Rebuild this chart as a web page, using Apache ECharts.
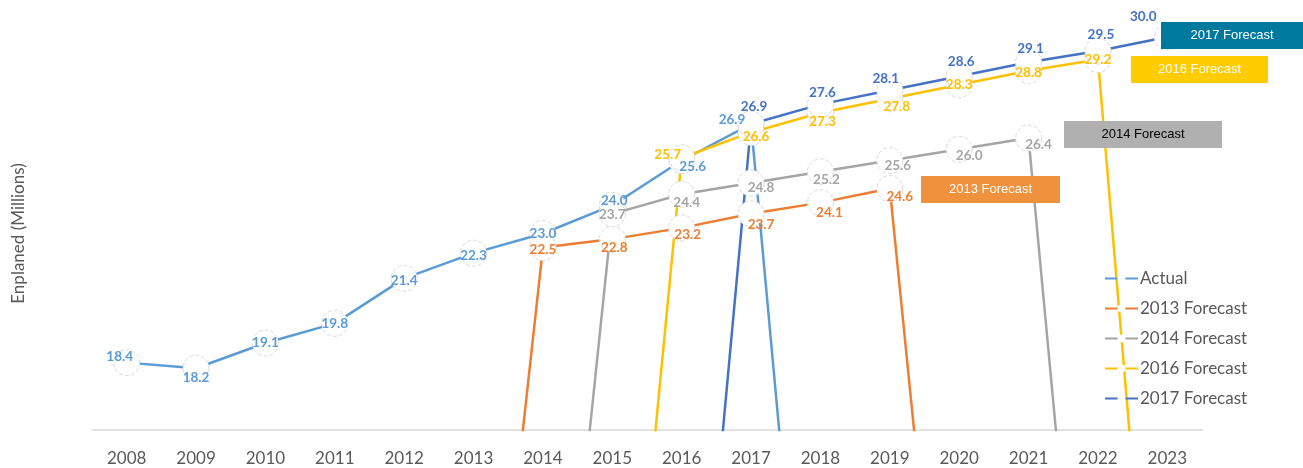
<!DOCTYPE html>
<html>
<head>
    <meta charset="UTF-8">
    <title>Enplaned forecast</title>
    <script src="https://cdn.jsdelivr.net/npm/echarts@6/dist/echarts.min.js"></script>
</head>
<body style="margin:0;background:#fff">
    <div id="chart" style="width:1303px; height:468px;"></div>
    <script>
        // years on x axis
        var years = ['2008','2009','2010','2011','2012','2013','2014','2015','2016','2017','2018','2019','2020','2021','2022','2023'];

        // series values (0 = no value in that year, drops below axis)
        var actual     = [18.4, 18.2, 19.1, 19.8, 21.4, 22.3, 23.0, 24.0, 25.6, 26.9, 0, 0, 0, 0, 0, 0];
        var fc2013     = [0, 0, 0, 0, 0, 0, 22.5, 22.8, 23.2, 23.7, 24.1, 24.6, 0, 0, 0, 0];
        var fc2014     = [0, 0, 0, 0, 0, 0, 0, 23.7, 24.4, 24.8, 25.2, 25.6, 26.0, 26.4, 0, 0];
        var fc2016     = [0, 0, 0, 0, 0, 0, 0, 0, 25.7, 26.6, 27.3, 27.8, 28.3, 28.8, 29.2, 0];
        var fc2017     = [0, 0, 0, 0, 0, 0, 0, 0, 0, 26.9, 27.6, 28.1, 28.6, 29.1, 29.5, 30.0];

        // label nudges per point, same order as the values
        var actualOff = [[-7,-6],[0,9],[0,0],[0,0],[0,2],[0,2],[0,0],[2,-5],[11,6],[-19,-4]];
        var off2013 = {6:[0,2], 7:[2,9], 8:[6,7], 9:[10,11], 10:[9,10], 11:[10,8]};
        var off2014 = {7:[0,1], 8:[5,8], 9:[10,5], 10:[6,8], 11:[8,5], 12:[10,6], 13:[10,7]};
        var off2016 = {8:[-14,-3], 9:[5,4], 10:[2,9], 11:[7,8], 12:[0,0], 13:[0,2], 14:[0,0]};
        var off2017 = {9:[3,-17], 10:[2,-12], 11:[-4,-12], 12:[2,-15], 13:[2,-14], 14:[3,-16], 15:[-24,-20]};

        var chart = echarts.init(document.getElementById('chart'), null, {renderer: 'canvas'});

        function points(vals, offs) {
            return vals.map(function (v, i) {
                var o = offs[i] || [0, 0];
                return {value: v, label: {offset: o}};
            });
        }

        function makeLine(name, color, vals, offs) {
            return {
                name: name,
                type: 'line',
                data: points(vals, offs),
                symbol: 'circle',
                symbolSize: 26,
                clip: true,
                color: color,
                lineStyle: {color: color, width: 2.5},
                itemStyle: {color: '#ffffff', borderColor: '#d9d9d9', borderWidth: 1, borderType: 'dashed'},
                emphasis: {disabled: true},
                label: {
                    show: true,
                    position: 'inside',
                    color: color,
                    fontFamily: 'Lato',
                    fontWeight: 'bold',
                    fontSize: 13.5,
                    formatter: function (p) { return p.value ? p.value.toFixed(1) : ''; }
                }
            };
        }

        function tag(text, x, y, w, h, bg, fg) {
            return {
                type: 'group', x: x, y: y, z: 100,
                children: [
                    {type: 'rect', shape: {x: 0, y: 0, width: w, height: h}, style: {fill: bg}, z: 100},
                    {type: 'text', x: w / 2, y: h / 2, z: 101,
                     style: {text: text, fill: fg, font: '13px "Liberation Sans", Arial', align: 'center', verticalAlign: 'middle'}}
                ]
            };
        }

        var option = {
            animation: false,
            grid: {left: 92, right: 101, top: 37, bottom: 38},
            legend: {
                orient: 'vertical',
                left: 1104,
                top: 270,
                padding: 0,
                itemWidth: 33,
                itemHeight: 10,
                itemGap: 13,
                itemStyle: {borderWidth: 0},
                textStyle: {fontFamily: 'Lato', fontSize: 17, color: '#595959', padding: [0, 0, 0, -3]},
                data: ['Actual', '2013 Forecast', '2014 Forecast', '2016 Forecast', '2017 Forecast']
            },
            xAxis: {
                type: 'category',
                data: years,
                axisLine: {lineStyle: {color: '#d9d9d9', width: 1.5}},
                axisTick: {show: false},
                axisLabel: {fontFamily: 'Lato', fontSize: 17, color: '#595959', margin: 20}
            },
            yAxis: {
                type: 'value',
                min: 16,
                max: 30,
                axisLine: {show: false},
                axisTick: {show: false},
                axisLabel: {show: false},
                splitLine: {show: false},
                name: 'Enplaned (Millions)',
                nameLocation: 'middle',
                nameGap: 65,
                nameTextStyle: {fontFamily: 'Lato', fontSize: 17, color: '#595959'}
            },
            series: [
                makeLine('Actual', '#5b9bd5', actual, actualOff),
                makeLine('2013 Forecast', '#ed7d31', fc2013, off2013),
                makeLine('2014 Forecast', '#a5a5a5', fc2014, off2014),
                makeLine('2016 Forecast', '#ffc000', fc2016, off2016),
                makeLine('2017 Forecast', '#4472c4', fc2017, off2017)
            ],
            graphic: [
                tag('2017 Forecast', 1161, 22, 142, 27, '#00799f', '#ffffff'),
                tag('2016 Forecast', 1131, 56, 137, 27, '#ffcc00', '#ffffff'),
                tag('2014 Forecast', 1064, 121, 158, 27, '#b0b0b0', '#000000'),
                tag('2013 Forecast', 921, 176, 139, 27, '#f0913d', '#ffffff')
            ]
        };

        chart.setOption(option);
    </script>
</body>
</html>
